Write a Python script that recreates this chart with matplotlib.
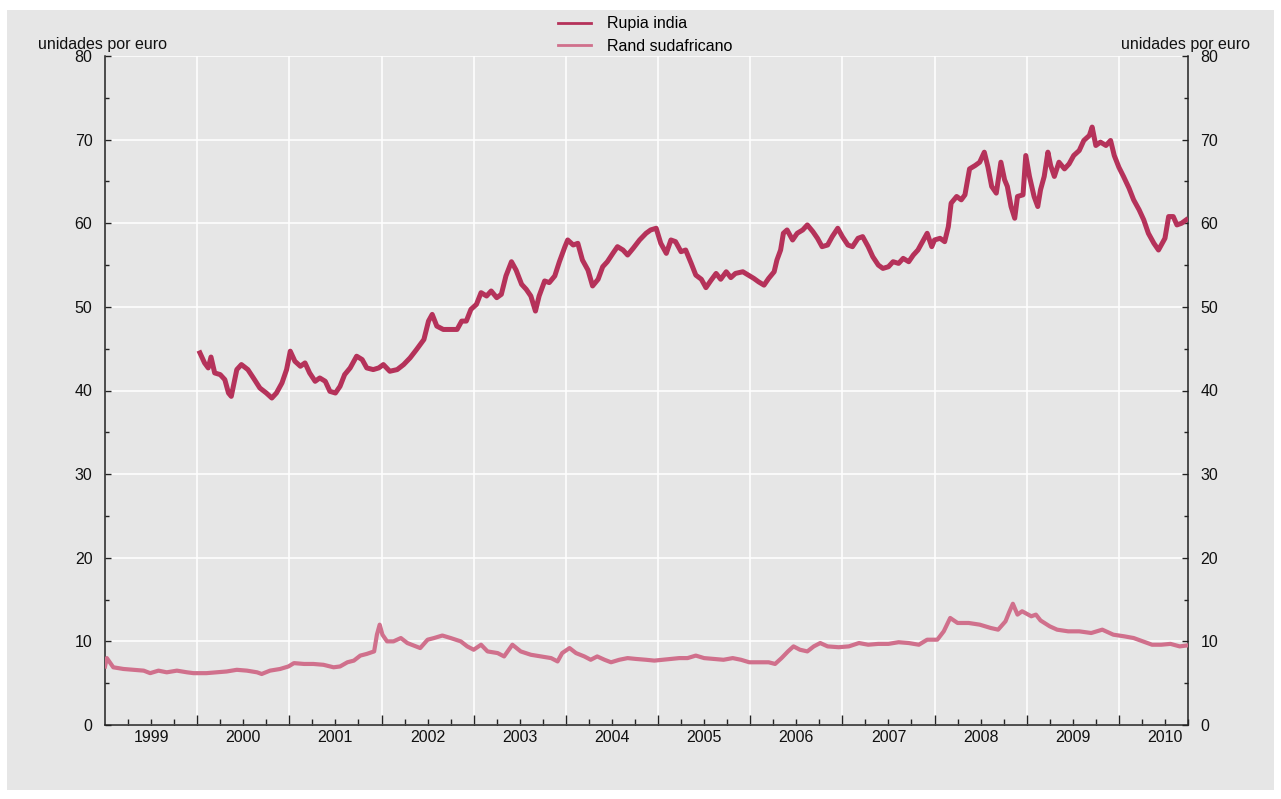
import matplotlib
matplotlib.use("Agg")
import matplotlib.pyplot as plt
import matplotlib.patches as mpatches
import numpy as np

plt.rcParams['font.family'] = ['Liberation Sans', 'DejaVu Sans']

# series (time in decimal years, euro exchange rate)
rupia_t = [2000.03, 2000.08, 2000.12, 2000.15, 2000.19, 2000.25, 2000.30, 2000.34, 2000.37,
           2000.43, 2000.48, 2000.55, 2000.61, 2000.68, 2000.75, 2000.81, 2000.86, 2000.92,
           2000.97, 2001.01, 2001.06, 2001.12, 2001.17, 2001.22, 2001.28, 2001.33, 2001.39,
           2001.44, 2001.50, 2001.55, 2001.60, 2001.66, 2001.73, 2001.79, 2001.84, 2001.91,
           2001.97, 2002.02, 2002.09, 2002.17, 2002.24, 2002.31, 2002.38, 2002.46, 2002.51,
           2002.55, 2002.60, 2002.67, 2002.75, 2002.82, 2002.87, 2002.92, 2002.97,
           2003.03, 2003.08, 2003.14, 2003.19, 2003.25, 2003.30, 2003.35, 2003.41, 2003.46,
           2003.52, 2003.57, 2003.62, 2003.67, 2003.71, 2003.77, 2003.82, 2003.88, 2003.93,
           2003.99, 2004.02, 2004.08, 2004.13, 2004.18, 2004.24, 2004.29, 2004.35, 2004.40,
           2004.45, 2004.51, 2004.56, 2004.62, 2004.67, 2004.73, 2004.80, 2004.87, 2004.92,
           2004.98, 2005.03, 2005.09, 2005.14, 2005.19, 2005.25, 2005.30, 2005.36, 2005.41,
           2005.47, 2005.52, 2005.57, 2005.63, 2005.68, 2005.74, 2005.79, 2005.84, 2005.92,
           2005.98, 2006.04, 2006.09, 2006.15, 2006.20, 2006.26, 2006.29, 2006.33, 2006.36,
           2006.40, 2006.46, 2006.51, 2006.57, 2006.62, 2006.68, 2006.73, 2006.78, 2006.84,
           2006.89, 2006.95, 2007.00, 2007.06, 2007.11, 2007.17, 2007.22, 2007.28, 2007.33,
           2007.39, 2007.44, 2007.50, 2007.55, 2007.61, 2007.66, 2007.72, 2007.77, 2007.82,
           2007.88, 2007.92, 2007.97, 2008.00, 2008.06, 2008.11, 2008.15, 2008.18, 2008.24,
           2008.29, 2008.33, 2008.38, 2008.44, 2008.49, 2008.54, 2008.58, 2008.62, 2008.67,
           2008.72, 2008.76, 2008.79, 2008.83, 2008.87, 2008.90, 2008.96, 2008.99, 2009.03,
           2009.08, 2009.12, 2009.15, 2009.19, 2009.23, 2009.26, 2009.30, 2009.35, 2009.41,
           2009.46, 2009.51, 2009.57, 2009.62, 2009.68, 2009.71, 2009.75, 2009.80, 2009.86,
           2009.91, 2009.95, 2010.00, 2010.05, 2010.11, 2010.16, 2010.22, 2010.27, 2010.32,
           2010.38, 2010.43, 2010.47, 2010.50, 2010.54, 2010.59, 2010.63, 2010.68, 2010.73]
rupia_v = [44.5, 43.3, 42.7, 44.0, 42.1, 41.9, 41.3, 39.7, 39.3,
           42.5, 43.1, 42.5, 41.5, 40.3, 39.7, 39.1, 39.7, 40.9,
           42.5, 44.7, 43.5, 42.9, 43.3, 42.1, 41.1, 41.5, 41.1,
           39.9, 39.7, 40.5, 41.9, 42.7, 44.1, 43.7, 42.7, 42.5,
           42.7, 43.1, 42.3, 42.5, 43.1, 43.9, 44.9, 46.1, 48.3,
           49.1, 47.7, 47.3, 47.3, 47.3, 48.3, 48.3, 49.7,
           50.3, 51.7, 51.3, 51.9, 51.1, 51.5, 53.7, 55.4, 54.4,
           52.7, 52.1, 51.3, 49.5, 51.3, 53.1, 52.9, 53.7, 55.4,
           57.2, 58.0, 57.4, 57.6, 55.6, 54.4, 52.5, 53.3, 54.8,
           55.4, 56.4, 57.2, 56.8, 56.2, 57.0, 58.0, 58.8, 59.2,
           59.4, 57.6, 56.4, 58.0, 57.8, 56.6, 56.8, 55.2, 53.8,
           53.3, 52.3, 53.1, 54.0, 53.3, 54.2, 53.5, 54.0, 54.2,
           53.8, 53.4, 53.0, 52.6, 53.4, 54.2, 55.6, 56.8, 58.8,
           59.2, 58.0, 58.8, 59.2, 59.8, 59.0, 58.2, 57.2, 57.4,
           58.4, 59.4, 58.4, 57.4, 57.2, 58.2, 58.4, 57.2, 56.0,
           55.0, 54.6, 54.8, 55.4, 55.2, 55.8, 55.4, 56.2, 56.8,
           58.0, 58.8, 57.2, 58.0, 58.2, 57.8, 59.6, 62.4, 63.2,
           62.8, 63.4, 66.5, 66.9, 67.3, 68.5, 66.7, 64.4, 63.6,
           67.3, 65.2, 64.4, 62.0, 60.6, 63.2, 63.4, 68.1, 65.6,
           63.2, 62.0, 64.0, 65.6, 68.5, 66.9, 65.6, 67.3, 66.5,
           67.1, 68.1, 68.7, 69.9, 70.5, 71.5, 69.3, 69.7, 69.3,
           69.9, 68.1, 66.7, 65.6, 64.2, 62.8, 61.6, 60.4, 58.8,
           57.6, 56.8, 57.6, 58.2, 60.8, 60.8, 59.8, 60.0, 60.4]

rand_t = [1999.00, 1999.02, 1999.09, 1999.20, 1999.31, 1999.42, 1999.49, 1999.58, 1999.67,
          1999.78, 1999.89, 1999.96, 2000.10, 2000.21, 2000.32, 2000.43, 2000.54, 2000.65,
          2000.70, 2000.79, 2000.90, 2000.99, 2001.05, 2001.16, 2001.26, 2001.37, 2001.48,
          2001.55, 2001.63, 2001.70, 2001.77, 2001.84, 2001.92, 2001.95, 2001.98, 2002.01,
          2002.06, 2002.13, 2002.21, 2002.28, 2002.35, 2002.42, 2002.50, 2002.57, 2002.66,
          2002.75, 2002.86, 2002.93, 2003.00, 2003.08, 2003.15, 2003.26, 2003.33, 2003.42,
          2003.51, 2003.62, 2003.73, 2003.84, 2003.91, 2003.96, 2004.04, 2004.11, 2004.20,
          2004.27, 2004.34, 2004.42, 2004.49, 2004.58, 2004.67, 2004.76, 2004.87, 2004.96,
          2005.05, 2005.14, 2005.23, 2005.32, 2005.41, 2005.50, 2005.61, 2005.71, 2005.81,
          2005.90, 2005.99, 2006.09, 2006.20, 2006.27, 2006.34, 2006.41, 2006.47, 2006.54,
          2006.62, 2006.69, 2006.76, 2006.84, 2006.96, 2007.07, 2007.18, 2007.28, 2007.39,
          2007.50, 2007.61, 2007.72, 2007.83, 2007.92, 2008.03, 2008.10, 2008.17, 2008.25,
          2008.37, 2008.49, 2008.61, 2008.69, 2008.77, 2008.81, 2008.85, 2008.90, 2008.95,
          2009.00, 2009.05, 2009.10, 2009.15, 2009.25, 2009.33, 2009.45, 2009.57, 2009.70,
          2009.82, 2009.94, 2010.06, 2010.16, 2010.26, 2010.36, 2010.46, 2010.56, 2010.66,
          2010.73]
rand_v = [7.0, 8.0, 6.9, 6.7, 6.6, 6.5, 6.2, 6.5, 6.3,
          6.5, 6.3, 6.2, 6.2, 6.3, 6.4, 6.6, 6.5, 6.3,
          6.1, 6.5, 6.7, 7.0, 7.4, 7.3, 7.3, 7.2, 6.9,
          7.0, 7.5, 7.7, 8.3, 8.5, 8.8, 10.8, 12.0, 10.8,
          10.0, 10.0, 10.4, 9.8, 9.5, 9.2, 10.2, 10.4, 10.7,
          10.4, 10.0, 9.4, 9.0, 9.6, 8.8, 8.6, 8.2, 9.6,
          8.8, 8.4, 8.2, 8.0, 7.6, 8.6, 9.2, 8.6, 8.2,
          7.8, 8.2, 7.8, 7.5, 7.8, 8.0, 7.9, 7.8, 7.7,
          7.8, 7.9, 8.0, 8.0, 8.3, 8.0, 7.9, 7.8, 8.0,
          7.8, 7.5, 7.5, 7.5, 7.3, 8.0, 8.8, 9.4, 9.0,
          8.8, 9.4, 9.8, 9.4, 9.3, 9.4, 9.8, 9.6, 9.7,
          9.7, 9.9, 9.8, 9.6, 10.2, 10.2, 11.2, 12.8, 12.2,
          12.2, 12.0, 11.6, 11.4, 12.4, 13.5, 14.5, 13.2, 13.6,
          13.3, 13.0, 13.2, 12.5, 11.8, 11.4, 11.2, 11.2, 11.0,
          11.4, 10.8, 10.6, 10.4, 10.0, 9.6, 9.6, 9.7, 9.4,
          9.5]

years = list(range(1999, 2011))
yticks = list(range(0, 81, 10))

col_rupia = '#b5325a'
col_rand = '#d0708c'
bg = '#e6e6e6'
txt = '#111111'

fig = plt.figure(figsize=(12.81, 7.99), dpi=100)
fig.patch.set_facecolor('white')
fig.patches.append(mpatches.Rectangle((7 / 1281, 9 / 799), 1267 / 1281, 780 / 799,
                                      transform=fig.transFigure, facecolor=bg,
                                      edgecolor='none', zorder=-10))

ax = fig.add_axes([105 / 1281, 1 - 725 / 799, 1083 / 1281, 669 / 799])
ax.set_facecolor(bg)
ax.set_zorder(5)

ax.plot(rand_t, rand_v, color=col_rand, lw=3.0, label='Rand sudafricano', zorder=3,
        solid_joinstyle='round')
ax.plot(rupia_t, rupia_v, color=col_rupia, lw=3.6, label='Rupia india', zorder=4,
        solid_joinstyle='round')

ax.set_xlim(1999, 2010.74)
ax.set_ylim(0, 80)

# grid
ax.set_xticks(years[1:])
ax.set_xticks([y + q / 4 for y in years for q in (1, 2, 3)], minor=True)
ax.set_yticks(yticks)
ax.set_yticks(range(5, 80, 10), minor=True)
ax.grid(True, which='major', color='white', lw=1.1, zorder=1)
ax.set_axisbelow(True)

for s in ['left', 'right', 'bottom']:
    ax.spines[s].set_color('#222222')
    ax.spines[s].set_linewidth(1.1)
ax.spines['top'].set_visible(False)

ax.tick_params(axis='x', which='major', direction='in', length=7, width=1, color='#222222',
               labelbottom=False)
ax.tick_params(axis='x', which='minor', direction='in', length=4, width=1, color='#222222')
ax.tick_params(axis='y', which='both', direction='in', left=True, right=True,
               labelleft=True, labelright=True, color='#222222', width=1,
               labelsize=11.5, labelcolor=txt, pad=9)
ax.tick_params(axis='y', which='major', length=4)
ax.tick_params(axis='y', which='minor', length=3)

# year labels in the middle of each year
for y in years:
    if y + 0.5 < 2010.74:
        ax.text(y + 0.5, -0.018, str(y), transform=ax.get_xaxis_transform(),
                ha='center', va='center', fontsize=11.5, color=txt)

fig.text(38 / 1281, 1 - 44 / 799, 'unidades por euro', ha='left', va='center',
         fontsize=11.5, color=txt)
fig.text(1250 / 1281, 1 - 44 / 799, 'unidades por euro', ha='right', va='center',
         fontsize=11.5, color=txt)

handles, labels = ax.get_legend_handles_labels()
leg = fig.legend(handles[::-1], labels[::-1], loc='upper center',
                 bbox_to_anchor=(645 / 1281, 1 - 2 / 799), frameon=False, fontsize=11.5,
                 handlelength=2.1, handletextpad=0.95, labelspacing=0.45)
for ln in leg.get_lines():
    ln.set_linewidth(2.0)

fig.savefig('out.png', dpi=100, facecolor='white')
